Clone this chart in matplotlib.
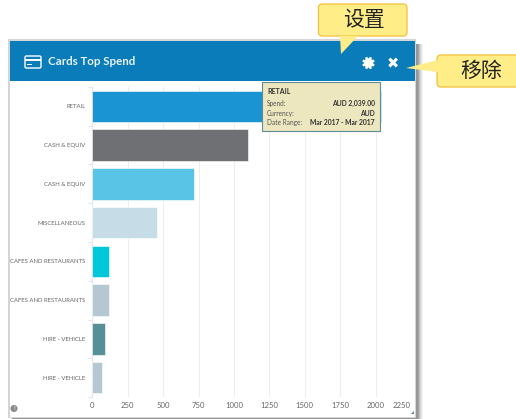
import numpy as np
import matplotlib
matplotlib.use('Agg')
import matplotlib.pyplot as plt
from matplotlib.patches import Rectangle, FancyBboxPatch, Polygon, Circle

categories = ['RETAIL', 'CASH & EQUIV', 'CASH & EQUIV', 'MISCELLANEOUS',
              'CAFES AND RESTAURANTS', 'CAFES AND RESTAURANTS',
              'HIRE - VEHICLE', 'HIRE - VEHICLE']
spend = [2039, 1100, 718, 460, 118, 118, 90, 65]
bar_colors = ['#1a94d2', '#6f7074', '#5ac4e6', '#c6dde8',
              '#00c8da', '#b5c8d1', '#568f98', '#b5c8d1']
x_ticks = [0, 250, 500, 750, 1000, 1250, 1500, 1750, 2000, 2250]

W, H = 516, 419
plt.rcParams['font.family'] = ['Lato', 'DejaVu Sans']
fig = plt.figure(figsize=(W / 100, H / 100), dpi=100, facecolor='white')


def pixel_axes(z):
    ax = fig.add_axes([0, 0, 1, 1], zorder=z)
    ax.set_xlim(0, W)
    ax.set_ylim(H, 0)
    ax.axis('off')
    ax.patch.set_alpha(0)
    return ax


# panel behind the chart, shadow is a few stacked grey boxes
bg = pixel_axes(0)
for i, c in enumerate(['#f4f4f4', '#e6e6e6', '#d4d4d4', '#bebebe', '#a6a6a6', '#969696']):
    bg.add_patch(Rectangle((12, 44), 411 - i, 380, color=c, lw=0))
bg.add_patch(Rectangle((8, 39), 408, 379, color='#d3d6d8', lw=0))
bg.add_patch(Rectangle((10, 41), 405, 376, color='white', lw=0))
bg.add_patch(Rectangle((10, 41), 405, 40, color='#0a7cba', lw=0))

# chart
left, right, top, bottom = 92.3, 411, 87, 397
ax = fig.add_axes([left / W, 1 - bottom / H, (right - left) / W, (bottom - top) / H], zorder=1)
ax.patch.set_alpha(0)
ax.barh(range(len(spend)), spend, height=0.81, color=bar_colors, edgecolor='white',
        linewidth=0.4, zorder=3)
ax.set_xlim(0, 2250)
ax.set_ylim(len(spend) - 0.5, -0.5)
ax.set_xticks(x_ticks)
ax.set_xticklabels([str(t) for t in x_ticks], fontsize=5.6, color='#666666')
ax.get_xticklabels()[-1].set_ha('right')
ax.set_yticks(range(len(categories)))
ax.set_yticklabels(categories, fontsize=4.3, color='#666666')
ax.tick_params(axis='x', length=0, pad=3.5)
ax.tick_params(axis='y', length=0, pad=5)
ax.set_yticks([i - 0.5 for i in range(len(spend) + 1)], minor=True)
ax.tick_params(axis='y', which='minor', length=3, color='#e3e6f0', width=0.8)
ax.grid(axis='x', color='#eeeeee', linewidth=0.8, zorder=0)
for name, spine in ax.spines.items():
    spine.set_visible(name == 'left')
ax.spines['left'].set_color('#e3e6f0')

# header, tooltip and callouts on top
top_ax = pixel_axes(2)
top_ax.text(48, 61.5, 'Cards Top Spend', color='#e8f3f9', fontsize=8.3, fontweight='bold',
            va='center')
top_ax.add_patch(FancyBboxPatch((25, 56), 16, 12, boxstyle='round,pad=0,rounding_size=1.5',
                                fc='none', ec='white', lw=1))
top_ax.add_patch(Rectangle((25, 59), 16, 2.5, color='white', lw=0))
top_ax.add_patch(Rectangle((27, 64.5), 5, 1, color='white', lw=0))

# gear: ring with spokes, hole left in header colour
for a in np.arange(0, np.pi, np.pi / 4):
    dx, dy = 6.2 * np.cos(a + np.pi / 8), 6.2 * np.sin(a + np.pi / 8)
    top_ax.plot([368.5 - dx, 368.5 + dx], [63 - dy, 63 + dy], color='white', lw=1.8,
                solid_capstyle='butt')
top_ax.add_patch(Circle((368.5, 63), 4.7, color='white', lw=0))
top_ax.add_patch(Circle((368.5, 63), 2, color='#0a7cba', lw=0))
top_ax.text(392.5, 63.5, '\u2716', color='white', fontsize=10.5, ha='center', va='center',
            family='DejaVu Sans')

top_ax.add_patch(Rectangle((262, 82), 117.5, 49.5, fc='#ece7bf', ec='#5f8c99', lw=0.8))
top_ax.text(267, 92, 'RETAIL', fontsize=5, fontweight='bold', color='#333333', va='center')
rows = [('Spend:', 'AUD 2,039.00', 103), ('Currency:', 'AUD', 113),
        ('Date Range:', 'Mar 2017 - Mar 2017', 122.5)]
for label, value, y in rows:
    top_ax.text(267, y, label, fontsize=4.7, color='#555555', va='center')
    top_ax.text(375, y, value, fontsize=4.9, fontweight='bold', color='#333333',
                ha='right', va='center')

top_ax.add_patch(Circle((14, 408.5), 3.5, color='#8a8a8a', lw=0))
top_ax.text(14, 408.5, '!', fontsize=4.5, color='white', ha='center', va='center')
top_ax.add_patch(Polygon([(414, 411), (414, 414), (411, 414)], color='#4f7fa5', lw=0))

callout_face, callout_edge = '#ffee88', '#f4c545'
cjk = ['Noto Sans CJK SC', 'DejaVu Sans']
top_ax.add_patch(FancyBboxPatch((318.5, 4), 88.5, 32, boxstyle='round,pad=0,rounding_size=4',
                                fc=callout_face, ec=callout_edge, lw=1))
top_ax.add_patch(Polygon([(340, 36), (341, 54), (358, 36)], fc=callout_face, ec='none'))
top_ax.text(364, 20, '设置', fontsize=15, color='#222222', ha='center', va='center', family=cjk)
top_ax.add_patch(FancyBboxPatch((437, 55), 90, 32, boxstyle='round,pad=0,rounding_size=4',
                                fc=callout_face, ec=callout_edge, lw=1))
top_ax.add_patch(Polygon([(438, 60), (406, 68), (438, 72)], fc=callout_face, ec='none'))
top_ax.text(481, 71, '移除', fontsize=15, color='#222222', ha='center', va='center', family=cjk)

fig.savefig('out.png', dpi=100)
